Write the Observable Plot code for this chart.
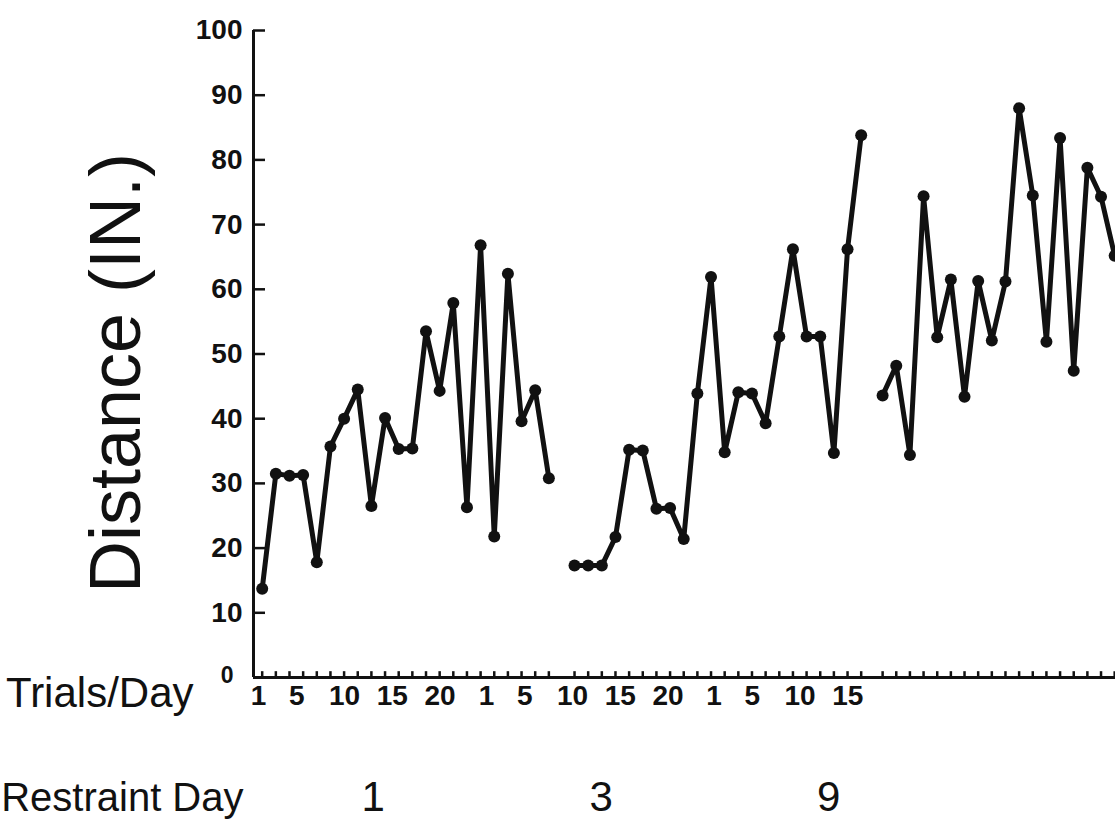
<!DOCTYPE html>
<html>
<head>
<meta charset="utf-8">
<script src="https://cdn.jsdelivr.net/npm/d3@7"></script>
<script src="https://cdn.jsdelivr.net/npm/@observablehq/plot@0.6"></script>
<style>
  html, body { margin: 0; padding: 0; background: #fff; }
  #chart svg { display: block; }
</style>
</head>
<body>
<div id="chart"></div>
<script>
// ---- data ----
const restraintDays = [1, 3, 9];
const day1Distance = [13.7, 31.5, 31.2, 31.3, 17.8, 35.7, 40.0, 44.5, 26.5, 40.1, 35.3, 35.4, 53.5, 44.3, 57.9, 26.3, 66.8, 21.8, 62.4, 39.6, 44.4, 30.8];
const day3Distance = [17.3, 17.3, 17.3, 21.7, 35.2, 35.1, 26.1, 26.2, 21.4, 43.9, 61.9, 34.8, 44.1, 43.9, 39.3, 52.7, 66.2, 52.7, 52.7, 34.7, 66.2, 83.8];
const day9Distance = [43.6, 48.2, 34.4, 74.4, 52.6, 61.5, 43.4, 61.3, 52.1, 61.2, 88.0, 74.5, 51.9, 83.4, 47.4, 78.8, 74.3, 65.2];
const yTickValues = [10, 20, 30, 40, 50, 60, 70, 80, 90, 100];
const yZeroTick = [0];
const trialTickLabels = [[1, 5, 10, 15, 20], [1, 5, 10, 15, 20], [1, 5, 10, 15]];
const yTitle = "Distance (IN.)";
const trialsTitle = "Trials/Day";
const restraintTitle = "Restraint Day";

// ---- layout (slot units along the x scale) ----
const dayStart = [0, 22.88, 45.45];       // slot before each day's first trial
const labelStart = [0.73, 17.43, 34.1];   // where each day's trial-label row begins
const labelStep = 0.7;                    // label row is compressed in the original
const restraintOffset = 8.4;
const xDomain = [0.363, 63.51];

const seriesByDay = [day1Distance, day3Distance, day9Distance];
const rows = restraintDays.flatMap((day, k) =>
  seriesByDay[k].map((v, i) => ({day, trial: i + 1, slot: dayStart[k] + i + 1, distance: v}))
);
const trialLabelRows = restraintDays.flatMap((day, k) =>
  trialTickLabels[k].map(t => ({day, pos: labelStart[k] + (t - 1) * labelStep, text: String(t)}))
);
const restraintRows = restraintDays.map((day, k) => ({day, pos: labelStart[k] + restraintOffset}));

const font = "'Liberation Sans', Arial, Helvetica, sans-serif";
const ink = "#111";

const chart = Plot.plot({
  width: 1115,
  height: 838,
  marginLeft: 253,
  marginRight: 0,
  marginTop: 30,
  marginBottom: 161,
  style: {fontFamily: font, color: ink, background: "#fff"},
  x: {domain: xDomain, axis: null},
  y: {domain: [0, 100], axis: null},
  marks: [
    // axis lines
    Plot.ruleX([xDomain[0]], {y1: 0, y2: 100, stroke: ink, strokeWidth: 3}),
    Plot.ruleY([0], {stroke: ink, strokeWidth: 3}),
    // small trial tick marks along the x axis
    Plot.ruleX(rows, {x: "slot", y1: 0, y2: 0.9, stroke: ink, strokeWidth: 2.5}),
    // inward y ticks
    Plot.axisY(yTickValues, {tickSize: 12, dx: 12, tickFormat: () => "", label: null, stroke: ink, strokeWidth: 2.5}),
    // y tick labels
    Plot.text(yTickValues, {y: d => d, text: d => String(d), frameAnchor: "left", textAnchor: "end", dx: -11, fontSize: 28, fontWeight: "bold", fontFamily: font, fill: ink}),
    Plot.text(yZeroTick, {y: d => d, text: d => String(d), frameAnchor: "left", textAnchor: "end", dx: -20, dy: -2, fontSize: 23, fontWeight: "bold", fontFamily: font, fill: ink}),
    // data
    Plot.line(rows, {x: "slot", y: "distance", z: "day", stroke: ink, strokeWidth: 5, strokeLinejoin: "round"}),
    Plot.dot(rows, {x: "slot", y: "distance", r: 6, fill: ink, stroke: null}),
    // trial label row
    Plot.text(trialLabelRows, {x: "pos", text: "text", frameAnchor: "bottom", dy: 27, fontSize: 28, fontWeight: "bold", fontFamily: font, fill: ink}),
    Plot.text([trialsTitle], {frameAnchor: "bottom-left", dx: -60, dy: 29, textAnchor: "end", fontSize: 42, fontFamily: font, fill: ink}),
    // restraint day row
    Plot.text(restraintRows, {x: "pos", text: d => String(d.day), frameAnchor: "bottom", dy: 133, fontSize: 42, fontFamily: font, fill: ink}),
    Plot.text([restraintTitle], {frameAnchor: "bottom-left", dx: -10, dy: 133, textAnchor: "end", fontSize: 40, fontFamily: font, fill: ink}),
    // y title
    Plot.text([yTitle], {frameAnchor: "left", rotate: -90, dx: -137, dy: 19, textAnchor: "middle", fontSize: 72, fontFamily: font, fill: ink})
  ]
});
document.getElementById("chart").appendChild(chart);
</script>
</body>
</html>
